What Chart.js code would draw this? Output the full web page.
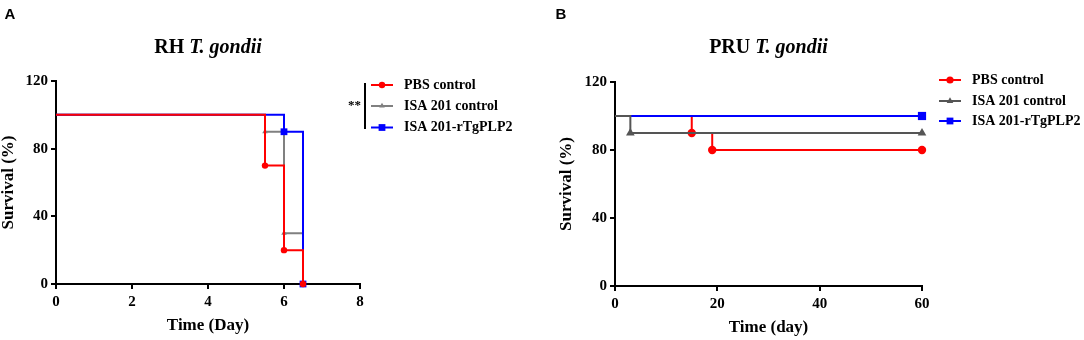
<!DOCTYPE html>
<html>
<head>
<meta charset="utf-8">
<script src="https://cdn.jsdelivr.net/npm/chart.js@4.4.0/dist/chart.umd.min.js"></script>
<style>
    body { margin: 0; background: #fff; }
    #wrap { position: relative; width: 1084px; height: 340px; }
    canvas { position: absolute; top: 0; }
</style>
</head>
<body>
<div id="wrap">
    <canvas id="rhChart" width="542" height="340" style="left:0"></canvas>
    <canvas id="pruChart" width="544" height="340" style="left:540px"></canvas>
</div>
<script>
    // series names
    var seriesNames = ['PBS control', 'ISA 201 control', 'ISA 201-rTgPLP2'];

    // A: RH T. gondii (days, survival %)
    var rhPbsDay = [0, 5.5, 6, 6.5];
    var rhPbsSurv = [100, 70, 20, 0];
    var rhIsaDay = [0, 5.5, 6, 6.5];
    var rhIsaSurv = [100, 90, 30, 0];
    var rhPlpDay = [0, 6, 6.5];
    var rhPlpSurv = [100, 90, 0];
    var rhXTicks = [0, 2, 4, 6, 8];

    // B: PRU T. gondii
    var pruPbsDay = [0, 15, 19, 60];
    var pruPbsSurv = [100, 90, 80, 80];
    var pruIsaDay = [0, 3, 60];
    var pruIsaSurv = [100, 90, 90];
    var pruPlpDay = [0, 60];
    var pruPlpSurv = [100, 100];
    var pruXTicks = [0, 20, 40, 60];

    var yTicks = [0, 40, 80, 120];

    var SERIF = "'Liberation Serif', 'Times New Roman', serif";
    var SANS = "'Liberation Sans', Arial, sans-serif";

    function drawMarker(ctx, style, r, x, y, color) {
        ctx.save();
        ctx.fillStyle = color;
        ctx.beginPath();
        if (style === 'circle') {
            ctx.arc(x, y, r, 0, Math.PI * 2);
        } else if (style === 'rect') {
            var s = r * Math.SQRT1_2;
            ctx.rect(x - s, y - s, 2 * s, 2 * s);
        } else {
            ctx.moveTo(x, y - r);
            ctx.lineTo(x + r * 0.866, y + r * 0.5);
            ctx.lineTo(x - r * 0.866, y + r * 0.5);
            ctx.closePath();
        }
        ctx.fill();
        ctx.restore();
    }

    var textPlugin = {
        id: 'panelText',
        afterDraw: function (chart) {
            var o = chart.options.plugins.panelText;
            var ctx = chart.ctx;
            var area = chart.chartArea;
            var cx = (area.left + area.right) / 2;
            var cy = (area.top + area.bottom) / 2;
            ctx.save();
            ctx.fillStyle = '#000';
            ctx.textBaseline = 'middle';

            // panel letter
            ctx.font = 'bold 15px ' + SANS;
            ctx.textAlign = 'center';
            ctx.fillText(o.letter, o.letterX, 15);

            // title: strain + italic species
            ctx.textAlign = 'left';
            ctx.font = 'bold 20px ' + SERIF;
            var w1 = ctx.measureText(o.strain + ' ').width;
            ctx.font = 'italic bold 20px ' + SERIF;
            var w2 = ctx.measureText('T. gondii').width;
            var sx = cx - (w1 + w2) / 2;
            ctx.font = 'bold 20px ' + SERIF;
            ctx.fillText(o.strain + ' ', sx, 48);
            ctx.font = 'italic bold 20px ' + SERIF;
            ctx.fillText('T. gondii', sx + w1, 48);

            // axis titles
            ctx.font = 'bold 17px ' + SERIF;
            ctx.textAlign = 'center';
            ctx.fillText(o.xTitle, cx, o.xTitleY);
            ctx.save();
            ctx.translate(o.yTitleX, cy);
            ctx.rotate(-Math.PI / 2);
            ctx.fillText('Survival (%)', 0, 0);
            ctx.restore();

            // legend
            ctx.textAlign = 'left';
            ctx.font = 'bold 14px ' + SERIF;
            chart.data.datasets.forEach(function (ds, i) {
                var idx = ds.legendIndex;
                var y = o.legendY[idx];
                ctx.strokeStyle = ds.borderColor;
                ctx.lineWidth = 2;
                ctx.beginPath();
                ctx.moveTo(o.legendX, y);
                ctx.lineTo(o.legendX + 22, y);
                ctx.stroke();
                drawMarker(ctx, ds.pointStyle, o.legendR[idx], o.legendX + 11, y, ds.borderColor);
                ctx.fillStyle = '#000';
                ctx.fillText(ds.label, o.legendX + 33, y);
            });

            // significance bracket
            if (o.stars) {
                ctx.strokeStyle = '#000';
                ctx.lineWidth = 2;
                ctx.beginPath();
                ctx.moveTo(o.legendX - 6, 83);
                ctx.lineTo(o.legendX - 6, 129);
                ctx.stroke();
                ctx.font = 'bold 13px ' + SERIF;
                ctx.textAlign = 'right';
                ctx.fillText(o.stars, o.legendX - 10, 106);
            }
            ctx.restore();
        }
    };

    function buildPanel(canvasId, series, xTicks, layout, text) {
        var el = document.getElementById(canvasId);
        var datasets = series.map(function (s) {
            return {
                label: seriesNames[s.idx],
                legendIndex: s.idx,
                data: s.x.map(function (v, i) { return { x: v, y: s.y[i] }; }),
                borderColor: s.color,
                backgroundColor: s.color,
                borderWidth: 2,
                stepped: 'before',
                fill: false,
                pointStyle: s.marker,
                pointRadius: s.x.map(function (v, i) { return i === 0 ? 0 : s.radius; }),
                pointBorderWidth: 0,
                pointHoverRadius: 0,
                order: s.order,
                clip: false
            };
        });

        var tickFont = { family: SERIF, size: 15, weight: 'bold' };
        var axisGrid = { display: true, drawOnChartArea: false, drawTicks: true, tickLength: 5, color: '#000', lineWidth: 2 };
        var axisBorder = { display: true, color: '#000', width: 2 };

        return new Chart(el, {
            type: 'line',
            data: { datasets: datasets },
            options: {
                responsive: false,
                animation: false,
                layout: { padding: { left: 0, top: layout.top, right: layout.right, bottom: 0 } },
                plugins: {
                    legend: { display: false },
                    tooltip: { enabled: false },
                    panelText: text
                },
                scales: {
                    x: {
                        type: 'linear',
                        min: xTicks[0],
                        max: xTicks[xTicks.length - 1],
                        afterBuildTicks: function (s) { s.ticks = xTicks.map(function (v) { return { value: v }; }); },
                        ticks: { color: '#000', font: tickFont, padding: 4, maxRotation: 0 },
                        grid: axisGrid,
                        border: axisBorder,
                        afterFit: function (s) { s.height = layout.xHeight; }
                    },
                    y: {
                        min: yTicks[0],
                        max: yTicks[yTicks.length - 1],
                        afterBuildTicks: function (s) { s.ticks = yTicks.map(function (v) { return { value: v }; }); },
                        ticks: { color: '#000', font: tickFont, padding: 3 },
                        grid: axisGrid,
                        border: axisBorder,
                        afterFit: function (s) { s.width = layout.left; }
                    }
                }
            },
            plugins: [textPlugin]
        });
    }

    buildPanel('rhChart', [
        { idx: 0, x: rhPbsDay, y: rhPbsSurv, color: '#ff0000', marker: 'circle', radius: 3.2, order: 0 },
        { idx: 2, x: rhPlpDay, y: rhPlpSurv, color: '#0000ff', marker: 'rect', radius: 4.8, order: 1 },
        { idx: 1, x: rhIsaDay, y: rhIsaSurv, color: '#808080', marker: 'triangle', radius: 3.2, order: 2 }
    ], rhXTicks,
    { left: 56, top: 81, right: 542 - 360, xHeight: 56 },
    { letter: 'A', letterX: 10, strain: 'RH', xTitle: 'Time (Day)', xTitleY: 326, yTitleX: 9,
      legendX: 371, legendY: [85, 106, 127.5], legendR: [3.2, 3.2, 4.8], stars: '**' });

    buildPanel('pruChart', [
        { idx: 1, x: pruIsaDay, y: pruIsaSurv, color: '#555555', marker: 'triangle', radius: 5, order: 0 },
        { idx: 2, x: pruPlpDay, y: pruPlpSurv, color: '#0000ff', marker: 'rect', radius: 5.8, order: 1 },
        { idx: 0, x: pruPbsDay, y: pruPbsSurv, color: '#ff0000', marker: 'circle', radius: 4.2, order: 2 }
    ], pruXTicks,
    { left: 75, top: 82, right: 544 - 382, xHeight: 54 },
    { letter: 'B', letterX: 21, strain: 'PRU', xTitle: 'Time (day)', xTitleY: 328, yTitleX: 27,
      legendX: 399, legendY: [80, 101, 121], legendR: [3.6, 3.8, 4.8], stars: '' });
</script>
</body>
</html>
